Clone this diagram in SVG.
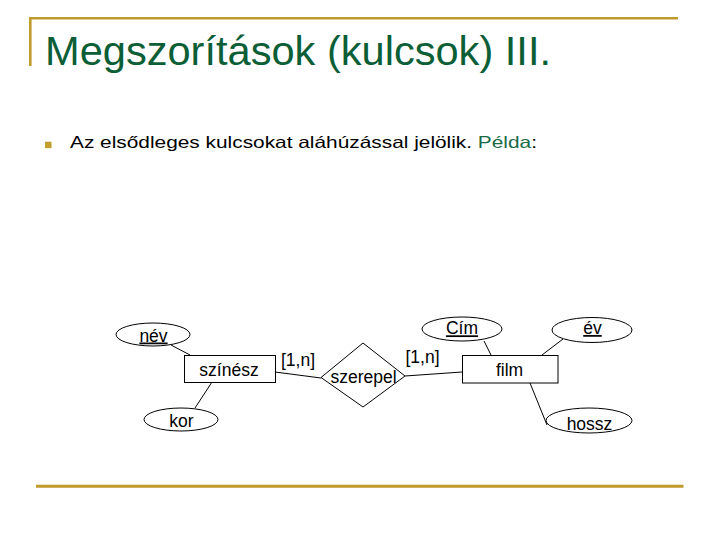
<svg xmlns="http://www.w3.org/2000/svg" width="720" height="540" viewBox="0 0 720 540">
<style>
.gold{stroke:#bf9a2c;fill:none}
.shape{fill:#fff;stroke:#000;stroke-width:1}
.lbl{font-family:"Liberation Sans",Arial,sans-serif;font-size:17.5px;fill:#000;text-anchor:middle}
.key{text-decoration:underline}
.conn line{stroke:#000;stroke-width:1}
</style>
<rect width="720" height="540" fill="#fff"/>
<line class="gold" x1="29" y1="18.3" x2="678" y2="18.3" stroke-width="2.6"/>
<line class="gold" x1="30.3" y1="17" x2="30.3" y2="66" stroke-width="2.6"/>
<line class="gold" x1="36" y1="486.3" x2="683.5" y2="486.3" stroke-width="3"/>
<text x="45" y="65" font-family="'Liberation Sans',Arial,sans-serif" font-size="41" fill="#0b5e36" textLength="506" lengthAdjust="spacingAndGlyphs">Megszorítások (kulcsok) III.</text>
<rect x="45" y="141.7" width="6.5" height="6.5" fill="#c49f2e"/>
<text x="70" y="147.5" font-family="'Liberation Sans',Arial,sans-serif" font-size="16.5" fill="#000" textLength="467" lengthAdjust="spacingAndGlyphs">Az elsődleges kulcsokat aláhúzással jelölik. <tspan fill="#1a6b45">Példa</tspan>:</text>
<g class="conn" id="connectors">
<line x1="171" y1="345" x2="190" y2="355"/>
<line x1="212" y1="382" x2="195" y2="408"/>
<line x1="275" y1="372" x2="321" y2="378"/>
<line x1="405" y1="376" x2="462" y2="372"/>
<line x1="484" y1="341" x2="491" y2="355"/>
<line x1="563" y1="339" x2="542" y2="355"/>
<line x1="530" y1="383" x2="547" y2="425"/>
<text class="lbl" x="298" y="365.5">[1,n]</text>
<text class="lbl" x="422.5" y="362.5">[1,n]</text>
</g>
<g id="nev"><ellipse class="shape" cx="153" cy="334.5" rx="37" ry="11.5"/><text class="lbl key" x="153.5" y="341.5">név</text></g>
<g id="szinesz"><rect class="shape" x="184.5" y="355.5" width="91" height="27"/><text class="lbl" x="229" y="376">színész</text></g>
<g id="kor"><ellipse class="shape" cx="181" cy="419.5" rx="37" ry="11.5"/><text class="lbl" x="181.5" y="426.5">kor</text></g>
<g id="szerepel"><polygon class="shape" points="363,343 405,376 363,407 321,377.5"/><text class="lbl" x="363.5" y="383">szerepel</text></g>
<g id="cim"><ellipse class="shape" cx="462" cy="329" rx="40" ry="12"/><text class="lbl key" x="462" y="334.3">Cím</text></g>
<g id="ev"><ellipse class="shape" cx="592" cy="330" rx="40" ry="12.5"/><text class="lbl key" x="592.5" y="334">év</text></g>
<g id="film"><rect class="shape" x="462.5" y="355.5" width="95.5" height="27.5"/><text class="lbl" x="509.5" y="376">film</text></g>
<g id="hossz"><ellipse class="shape" cx="589" cy="420.5" rx="43" ry="12.5"/><text class="lbl" x="589.5" y="430">hossz</text></g>
</svg>
